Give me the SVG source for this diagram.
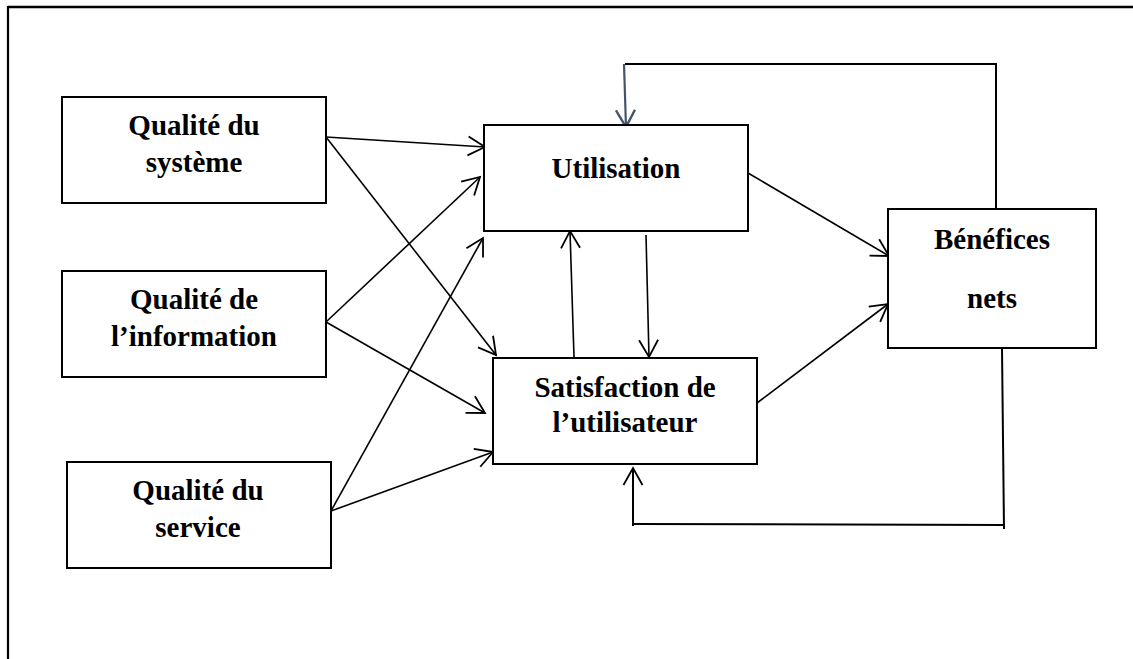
<svg xmlns="http://www.w3.org/2000/svg" width="1133" height="659" viewBox="0 0 1133 659">
  <style>
    .box { fill: #ffffff; stroke: #000000; stroke-width: 2; }
    .lbl { font-family: "Liberation Serif", "Times New Roman", serif; font-weight: bold; font-size: 29px; fill: #000000; text-anchor: middle; }
    .edge { fill: none; stroke: #000000; stroke-width: 1.6; }
    .loop { fill: none; stroke: #000000; stroke-width: 2; }
    .blue { fill: none; stroke: #44546a; stroke-width: 2.2; }
  </style>
  <defs>
    <marker id="arrow" viewBox="0 0 24 24" refX="20" refY="12" markerWidth="24" markerHeight="24" markerUnits="userSpaceOnUse" orient="auto">
      <path d="M3,2.5 L20,12 L3,21.5" fill="none" stroke="#000000" stroke-width="1.8"/>
    </marker>
    <marker id="arrowBlue" viewBox="0 0 24 24" refX="20" refY="12" markerWidth="24" markerHeight="24" markerUnits="userSpaceOnUse" orient="auto">
      <path d="M3,2.5 L20,12 L3,21.5" fill="none" stroke="#44546a" stroke-width="2.4"/>
    </marker>
  </defs>

  <rect width="1133" height="659" fill="#ffffff"/>

  <!-- page frame (top and left edges) -->
  <g id="frame">
    <line x1="8" y1="7" x2="1133" y2="7" stroke="#000000" stroke-width="2.4"/>
    <line x1="8" y1="6" x2="8" y2="659" stroke="#000000" stroke-width="2.2"/>
  </g>

  <!-- connectors -->
  <g id="connectors">
    <line class="edge" x1="326" y1="137" x2="485" y2="147" marker-end="url(#arrow)"/>
    <line class="edge" x1="326" y1="137" x2="496" y2="355" marker-end="url(#arrow)"/>
    <line class="edge" x1="326" y1="322" x2="480" y2="177" marker-end="url(#arrow)"/>
    <line class="edge" x1="326" y1="322" x2="485" y2="413" marker-end="url(#arrow)"/>
    <line class="edge" x1="331" y1="511" x2="483" y2="238" marker-end="url(#arrow)"/>
    <line class="edge" x1="331" y1="511" x2="493" y2="452" marker-end="url(#arrow)"/>
    <line class="edge" x1="574" y1="357" x2="570" y2="231" marker-end="url(#arrow)"/>
    <line class="edge" x1="646" y1="235" x2="649" y2="357" marker-end="url(#arrow)"/>
    <line class="edge" x1="748" y1="173" x2="889" y2="256" marker-end="url(#arrow)"/>
    <line class="edge" x1="757" y1="403" x2="888" y2="304" marker-end="url(#arrow)"/>
    <!-- feedback to Utilisation -->
    <polyline class="loop" points="996,209 996,64 625,64" stroke="#333333"/>
    <line class="blue" x1="624" y1="64" x2="626" y2="127" marker-end="url(#arrowBlue)"/>
    <!-- feedback to Satisfaction -->
    <line class="loop" x1="1002" y1="348" x2="1004" y2="529"/>
    <line class="loop" x1="1004" y1="525" x2="633" y2="524"/>
    <line class="loop" x1="633" y1="526" x2="633" y2="468" marker-end="url(#arrow)"/>
  </g>

  <g id="qualite-systeme">
    <rect class="box" x="62" y="97" width="264" height="106"/>
    <text class="lbl" x="194" y="135">Qualité du</text>
    <text class="lbl" x="194" y="172">système</text>
  </g>

  <g id="qualite-information">
    <rect class="box" x="62" y="271" width="264" height="106"/>
    <text class="lbl" x="194" y="309">Qualité de</text>
    <text class="lbl" x="194" y="346">l’information</text>
  </g>

  <g id="qualite-service">
    <rect class="box" x="67" y="462" width="264" height="106"/>
    <text class="lbl" x="198" y="500">Qualité du</text>
    <text class="lbl" x="198" y="537">service</text>
  </g>

  <g id="utilisation">
    <rect class="box" x="484" y="125" width="264" height="106"/>
    <text class="lbl" x="616" y="178">Utilisation</text>
  </g>

  <g id="satisfaction">
    <rect class="box" x="493" y="358" width="264" height="106"/>
    <text class="lbl" x="625" y="397">Satisfaction de</text>
    <text class="lbl" x="625" y="432">l’utilisateur</text>
  </g>

  <g id="benefices">
    <rect class="box" x="888" y="209" width="208" height="139"/>
    <text class="lbl" x="992" y="249">Bénéfices</text>
    <text class="lbl" x="992" y="308">nets</text>
  </g>
</svg>
